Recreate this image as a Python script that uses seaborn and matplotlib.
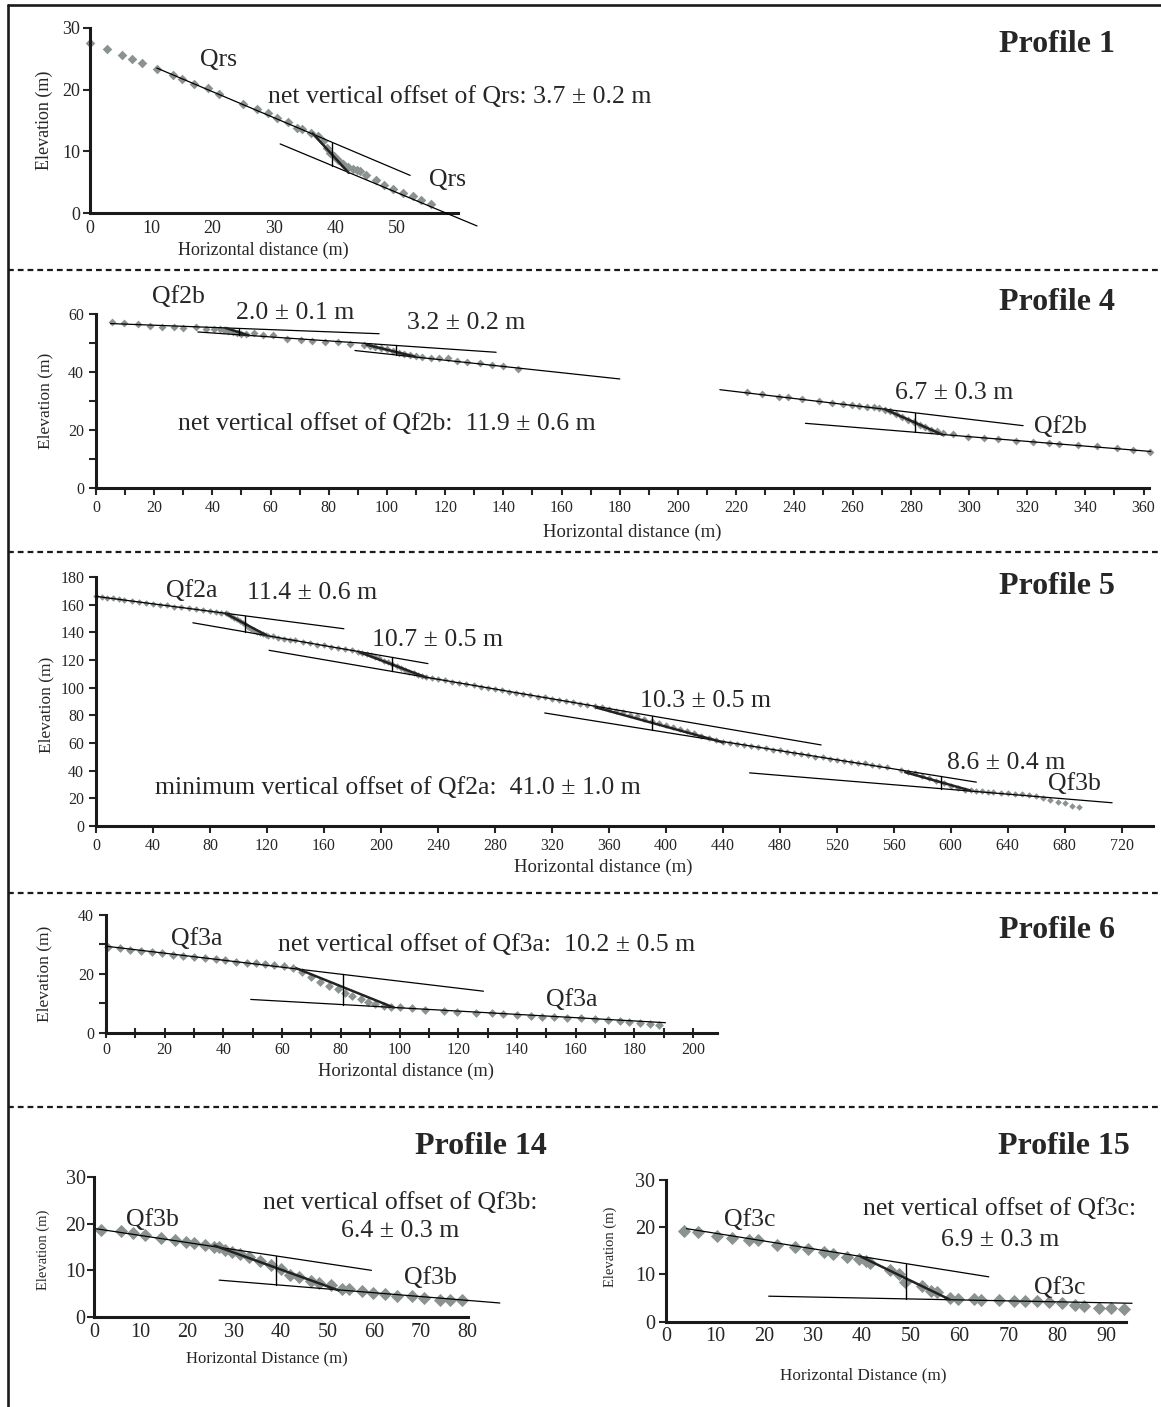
import numpy as np
import matplotlib
matplotlib.use('Agg')
import matplotlib.pyplot as plt
from matplotlib.lines import Line2D
import seaborn as sns

sns.set_style('ticks')
plt.rcParams['font.family'] = ['Liberation Serif', 'DejaVu Serif']

# ---------------------------------------------------------------------------
# Profile 1
p1_x = [0, 2.8, 5.2, 6.8, 8.5, 11, 13.6, 15, 17, 19.2, 21, 25, 27.2, 29, 30.5, 32.3, 33.7, 34.6,
        36, 37.2, 38, 38.6, 39.2, 39.8, 40.5, 41.2, 42, 42.8, 43.5, 44, 45, 46.6, 48, 49.4, 51,
        52.6, 54, 55.6]
p1_y = [27.5, 26.6, 25.6, 25.0, 24.3, 23.4, 22.3, 21.8, 21.0, 20.2, 19.3, 17.7, 16.9, 16.2, 15.4,
        14.7, 13.8, 13.6, 13.0, 12.5, 11.6, 10.6, 9.8, 9.2, 8.6, 8.0, 7.5, 7.2, 7.0, 6.8, 6.2, 5.3,
        4.6, 3.9, 3.2, 2.7, 2.1, 1.5]
p1_fits = [([10.9, 52.2], [23.5, 6.1]), ([31, 63.1], [11.2, -2.1])]
p1_scarps = [([36.3, 42.2], [12.9, 6.5])]
p1_bars = [(39.5, 11.4, 7.7)]

# Profile 4
p4_x = [5.6, 9.7, 14.3, 18.6, 22.6, 26.8, 29.9, 34.5, 37.8, 40.5, 42.5,
        44, 45.5, 47, 48.5, 50, 51.5,
        54.4, 57.5, 60.7, 65.7, 70.3, 74.1, 78.8, 83, 87.4,
        92, 94, 96, 98, 100, 102, 104, 106, 108, 110,
        112, 115, 118, 121, 124, 127.5, 132, 136, 140, 145,
        223.7, 228.8, 234.6, 237.8, 242.6, 248.4, 253, 256.7, 259.7, 262.3, 264.8, 267.2, 269, 271.2,
        273, 275, 277, 279, 281, 283, 285, 287, 289, 291,
        294.4, 299.5, 305.3, 309.8, 316.2, 322, 327.6, 331, 337.5, 343.9, 351, 356.4, 362.3]
p4_y = [57.2, 56.9, 56.5, 55.7, 55.6, 55.4, 55.3, 55.4, 55.0, 55.0, 54.8,
        54.6, 54.3, 53.9, 53.5, 53.2, 53.0,
        53.4, 52.8, 52.6, 51.4, 50.9, 50.8, 50.3, 50.3, 49.6,
        49.4, 49.0, 48.6, 48.2, 47.8, 47.2, 46.6, 46.2, 45.7, 45.4,
        45.3, 45.0, 44.7, 44.7, 43.9, 43.6, 43.0, 42.5, 41.9, 41.2,
        33.0, 32.4, 31.5, 31.3, 30.7, 29.9, 29.3, 29.0, 28.6, 28.2, 28.0, 27.8, 27.5, 26.9,
        26.4, 25.5, 24.6, 23.6, 22.7, 21.8, 20.9, 20.1, 19.5, 19.1,
        18.6, 17.7, 17.2, 16.8, 16.1, 15.7, 15.5, 15.2, 14.8, 14.4, 13.7, 13.1, 12.5]
p4_fits = [([5, 97.3], [56.7, 53.2]), ([35, 137.5], [53.8, 46.8]), ([89, 180], [47.4, 37.6]),
           ([214.4, 318.6], [33.9, 21.5]), ([243.8, 362.5], [22.3, 12.6])]
p4_scarps = [([44.5, 52.5], [55.2, 52.6]), ([93, 109.6], [49.4, 45.3]), ([271, 290.8], [27.2, 18.4])]
p4_bars = [(49, 55.0, 52.8), (103, 49.2, 45.9), (281.5, 25.9, 19.2)]

# Profile 5
p5_x = [0, 4, 8, 12, 16, 20, 25, 30, 35, 40, 45, 50, 55, 60, 65, 70, 75, 80, 84, 88, 91,
        93, 95, 97, 99, 101, 103, 105, 107, 109, 111, 113, 115, 117, 119, 121,
        124, 128, 132, 136, 140, 145, 150, 155, 160, 165, 170, 175, 180, 184,
        187, 190, 193, 196, 199, 202, 205, 208, 211, 214, 217, 220, 223, 226, 229, 232,
        236, 240, 245, 250, 255, 260, 265, 270, 275, 280, 285, 290, 295, 300, 305, 310, 315, 320,
        325, 330, 335, 340, 345, 350, 355,
        360, 365, 370, 375, 380, 385, 390, 395, 400, 405, 410, 415, 420, 425, 430, 435, 440,
        445, 450, 455, 460, 465, 470, 475, 480, 485, 490, 495, 500, 505, 510, 515, 520, 525, 530,
        535, 540, 545, 550, 555,
        565, 570, 575, 580, 585, 590, 595, 600, 605, 610, 614,
        618, 622, 626, 630, 635, 640, 645, 650, 655, 660, 665, 670, 675, 680, 685, 690]
p5_y = [166.1, 165.7, 165.0, 164.6, 163.9, 163.5, 162.6, 162.1, 161.3, 160.8, 159.9, 159.5, 158.6,
        158.1, 157.3, 156.8, 155.9, 155.4, 154.7, 154.3, 153.7,
        153.0, 152.1, 150.7, 149.5, 147.9, 146.7, 145.1, 143.9, 142.4, 141.4, 140.2, 139.6, 138.7,
        138.4, 137.7,
        137.0, 136.1, 135.5, 134.7, 134.1, 133.0, 132.3, 131.2, 130.5, 129.4, 128.8, 127.6, 126.9, 126.0,
        125.1, 124.1, 123.4, 122.1, 121.1, 119.6, 118.5, 116.9, 115.7, 114.1, 113.0, 111.5, 110.5,
        109.2, 108.4, 107.4,
        106.9, 106.0, 105.3, 104.2, 103.5, 102.5, 101.8, 100.7, 100.0, 98.9, 98.2, 97.2, 96.5, 95.4,
        94.7, 93.6, 92.9, 91.8, 91.2, 90.1, 89.4, 88.3, 87.6, 86.6, 85.9,
        84.6, 83.3, 82.1, 80.5, 79.2, 77.5, 76.2, 74.5, 73.1, 71.4, 70.1, 68.4, 67.0, 65.1, 63.6, 61.9, 60.7,
        60.2, 59.5, 58.5, 57.9, 56.8, 56.2, 55.2, 54.6, 53.5, 52.9, 51.9, 51.3, 50.2, 49.6, 48.6, 48.0,
        47.1, 46.5, 45.8, 45.2, 44.4, 43.6, 42.6,
        40.3, 39.2, 38.0, 36.1, 34.4, 32.4, 30.8, 28.9, 27.7, 26.3, 25.7,
        25.2, 25.0, 24.5, 24.3, 23.8, 23.6, 23.2, 22.9, 22.2, 21.6, 20.2, 19.0, 17.4, 16.3, 14.8, 13.9]
p5_fits = [([0, 174], [166, 142.6]), ([68, 233], [146.9, 117.4]), ([121.5, 509], [127, 58.6]),
           ([315, 618], [81.7, 31.7]), ([458.8, 713.3], [38.4, 16.8])]
p5_scarps = [([91, 119.4], [153.6, 138]), ([185, 232], [125.7, 107.3]),
             ([351, 440], [85.7, 60.5]), ([568, 613.6], [38.9, 25.7])]
p5_bars = [(104.6, 151.9, 140.4), (208, 121.9, 111.7), (390, 79.6, 69.3), (593.4, 35.8, 27.0)]

# Profile 6
p6_x = [0.8, 4.7, 8.3, 11.8, 15.6, 19.2, 22.8, 26.2, 30.1, 33.7, 37.4, 40.5, 44.4, 48, 51.1, 54.2,
        57.4, 60.5, 63.6, 66.7, 69.8, 73, 76, 79.2, 81.5, 83.9, 87, 89.3, 91.7, 94.8, 97.1, 100.2,
        104.1, 108.8, 115, 119.7, 126, 131.4, 135.3, 140, 144.7, 148.6, 152.5, 157.1, 161.8, 166.5,
        171.2, 175.1, 178.2, 182.1, 185.2, 188.3]
p6_y = [29.2, 28.7, 28.1, 27.8, 27.3, 27.0, 26.4, 26.1, 25.6, 25.3, 25.0, 24.7, 24.1, 23.8, 23.6,
        23.3, 23.0, 22.7, 22.1, 20.7, 18.8, 17.3, 15.9, 14.7, 13.6, 12.5, 11.3, 10.5, 9.6, 9.1, 8.8,
        8.6, 8.3, 7.7, 7.5, 7.1, 6.8, 6.6, 6.2, 6.0, 5.7, 5.4, 5.2, 5.1, 4.9, 4.5, 4.3, 4.0, 3.7,
        3.2, 2.9, 2.6]
p6_fits = [([0, 128.6], [29.4, 14.1]), ([49.3, 190.6], [11.3, 3.4])]
p6_scarps = [([64.8, 97.9], [21.9, 8.6])]
p6_bars = [(80.7, 19.8, 9.5)]

# Profile 14
p14_x = [1.5, 5.8, 8.3, 11, 14.4, 17.3, 19.6, 21.5, 23.8, 25.8, 26.8, 28.1, 29.6, 31.3, 33.1, 35.5,
         37.8, 40.1, 41.9, 43.8, 46.5, 48.2, 50.8, 53.1, 54.7, 57.4, 59.8, 62.3, 64.9, 68.1, 70.6,
         74.1, 76.2, 78.7]
p14_y = [18.7, 18.5, 17.9, 17.6, 16.9, 16.4, 16.1, 15.9, 15.4, 15.0, 15.0, 14.4, 13.9, 13.4, 12.8,
         11.9, 11.1, 10.3, 9.1, 8.6, 7.8, 7.3, 6.8, 6.1, 5.9, 5.5, 5.1, 5.0, 4.6, 4.4, 4.1, 3.7, 3.7, 3.6]
p14_fits = [([0.5, 59.4], [18.9, 10.0]), ([26.8, 86.9], [7.9, 3.0])]
p14_scarps = [([25.8, 52.4], [15.3, 5.7])]
p14_bars = [(39, 13.1, 6.9)]

# Profile 15
p15_x = [3.6, 6.6, 10.5, 13.5, 17, 18.9, 22.7, 26.4, 29.1, 32.4, 34.1, 37.1, 39.4, 40.9, 41.7, 45.8,
         47.7, 48.9, 52.3, 54.2, 55.5, 58, 59.7, 63, 64.4, 68, 71.1, 73.5, 75.9, 78.4, 80.9, 83.7,
         85.5, 88.5, 90.9, 93.6]
p15_y = [19.2, 18.9, 18.2, 17.8, 17.4, 17.3, 16.3, 15.8, 15.4, 14.8, 14.3, 13.7, 13.2, 12.8, 12.5,
         10.9, 10.0, 8.3, 7.6, 6.5, 6.3, 5.1, 4.9, 4.9, 4.7, 4.6, 4.4, 4.4, 4.4, 4.1, 3.9, 3.5, 3.4,
         3.0, 2.8, 2.6]
p15_fits = [([4.2, 66], [19.7, 9.5]), ([21, 95.3], [5.4, 3.9])]
p15_scarps = [([39.8, 58], [13.8, 4.7])]
p15_bars = [(49.1, 12.3, 4.8)]

# ---------------------------------------------------------------------------
W, H = 1161, 1407
PT = '#8b9390'
fig = plt.figure(figsize=(W / 100, H / 100), dpi=100)
fig.patch.set_facecolor('white')


def px(x, y):
    return x / W, 1 - y / H


def ftext(x, y, s, **kw):
    fx, fy = px(x, y)
    fig.text(fx, fy, s, **kw)


def panel(l, t, r, b, xlim, ylim):
    ax = fig.add_axes([l / W, 1 - b / H, (r - l) / W, (b - t) / H])
    ax.patch.set_alpha(0)
    ax.set_xlim(*xlim)
    ax.set_ylim(*ylim)
    for s in ['top', 'right']:
        ax.spines[s].set_visible(False)
    for s in ['left', 'bottom']:
        ax.spines[s].set_linewidth(2.2)
        ax.spines[s].set_color('#1a1a1a')
    return ax


def draw(ax, xs, ys, fits, scarps, bars, ms):
    sns.scatterplot(x=xs, y=ys, ax=ax, marker='D', s=ms, color=PT, edgecolor=PT,
                    linewidth=0, zorder=2, clip_on=False, legend=False)
    for xx, yy in fits:
        ax.plot(xx, yy, color='black', lw=0.9, zorder=3, clip_on=False)
    for xx, yy in scarps:
        ax.plot(xx, yy, color='#222222', lw=1.8, zorder=3, clip_on=False)
    for bx, y0, y1 in bars:
        ax.plot([bx, bx], [y0, y1], color='black', lw=1.0, zorder=3, clip_on=False)


TXT = 18.5
TITLE = 23

# ---- Profile 1
ax1 = panel(90, 28, 458, 213, (0, 60), (0, 30))
draw(ax1, p1_x, p1_y, p1_fits, p1_scarps, p1_bars, 24)
ax1.set_xticks(range(0, 51, 10))
ax1.set_yticks(range(0, 31, 10))
ax1.tick_params(axis='both', labelsize=13, width=1.5)
ax1.tick_params(axis='x', length=0, pad=5)
ax1.tick_params(axis='y', length=5, pad=2)
ftext(44, 120, 'Elevation (m)', rotation=90, ha='center', va='center', fontsize=13)
ftext(263, 250, 'Horizontal distance (m)', ha='center', va='center', fontsize=13)
ftext(218, 60, 'Qrs', ha='center', va='center', fontsize=TXT)
ftext(268, 97, 'net vertical offset of Qrs: 3.7 ± 0.2 m', ha='left', va='center', fontsize=TXT)
ftext(447, 180, 'Qrs', ha='center', va='center', fontsize=TXT)
ftext(1115, 45, 'Profile 1', ha='right', va='center', fontsize=TITLE, weight='bold')

# ---- Profile 4
ax4 = panel(96, 314, 1149.4, 488, (0, 362), (0, 60))
draw(ax4, p4_x, p4_y, p4_fits, p4_scarps, p4_bars, 16)
ax4.set_xticks(range(0, 361, 20))
ax4.set_xticks(range(10, 361, 20), minor=True)
ax4.set_yticks(range(0, 61, 20))
ax4.set_yticks(range(10, 61, 20), minor=True)
ax4.tick_params(axis='both', which='both', labelsize=11.5, width=1.5, length=5, direction='out')
ftext(45, 401, 'Elevation (m)', rotation=90, ha='center', va='center', fontsize=12.5)
ftext(632, 532, 'Horizontal distance (m)', ha='center', va='center', fontsize=13.5)
ftext(178, 297, 'Qf2b', ha='center', va='center', fontsize=TXT)
ftext(295, 313, '2.0 ± 0.1 m', ha='center', va='center', fontsize=TXT)
ftext(466, 323, '3.2 ± 0.2 m', ha='center', va='center', fontsize=TXT)
ftext(178, 424, 'net vertical offset of Qf2b:  11.9 ± 0.6 m', ha='left', va='center', fontsize=TXT)
ftext(954, 393, '6.7 ± 0.3 m', ha='center', va='center', fontsize=TXT)
ftext(1060, 427, 'Qf2b', ha='center', va='center', fontsize=TXT)
ftext(1115, 303, 'Profile 4', ha='right', va='center', fontsize=TITLE, weight='bold')

# ---- Profile 5
ax5 = panel(96, 577, 1153, 826, (0, 742), (0, 180))
draw(ax5, p5_x, p5_y, p5_fits, p5_scarps, p5_bars, 11)
ax5.set_xticks(range(0, 721, 40))
ax5.set_yticks(range(0, 181, 20))
ax5.tick_params(axis='both', labelsize=11.5, width=1.5, length=5, direction='out')
ftext(46, 705, 'Elevation (m)', rotation=90, ha='center', va='center', fontsize=12.5)
ftext(603, 867, 'Horizontal distance (m)', ha='center', va='center', fontsize=13.5)
ftext(192, 591, 'Qf2a', ha='center', va='center', fontsize=TXT)
ftext(312, 593, '11.4 ± 0.6 m', ha='center', va='center', fontsize=TXT)
ftext(437, 640, '10.7 ± 0.5 m', ha='center', va='center', fontsize=TXT)
ftext(705, 701, '10.3 ± 0.5 m', ha='center', va='center', fontsize=TXT)
ftext(1006, 763, '8.6 ± 0.4 m', ha='center', va='center', fontsize=TXT)
ftext(1074, 784, 'Qf3b', ha='center', va='center', fontsize=TXT)
ftext(155, 788, 'minimum vertical offset of Qf2a:  41.0 ± 1.0 m', ha='left', va='center', fontsize=TXT)
ftext(1115, 587, 'Profile 5', ha='right', va='center', fontsize=TITLE, weight='bold')

# ---- Profile 6
ax6 = panel(106, 915, 716.5, 1032.7, (0, 208), (0, 40))
draw(ax6, p6_x, p6_y, p6_fits, p6_scarps, p6_bars, 20)
ax6.set_xticks(range(0, 201, 20))
ax6.set_xticks(range(10, 201, 20), minor=True)
ax6.set_yticks(range(0, 41, 20))
ax6.set_yticks(range(10, 41, 20), minor=True)
ax6.tick_params(axis='both', which='both', labelsize=11.5, width=1.5, length=5)
ax6.tick_params(axis='x', which='both', direction='inout', length=7)
ftext(44, 974, 'Elevation (m)', rotation=90, ha='center', va='center', fontsize=12.5)
ftext(406, 1071, 'Horizontal distance (m)', ha='center', va='center', fontsize=13.3)
ftext(197, 939, 'Qf3a', ha='center', va='center', fontsize=TXT)
ftext(278, 945, 'net vertical offset of Qf3a:  10.2 ± 0.5 m', ha='left', va='center', fontsize=TXT)
ftext(572, 1000, 'Qf3a', ha='center', va='center', fontsize=TXT)
ftext(1115, 930, 'Profile 6', ha='right', va='center', fontsize=TITLE, weight='bold')

# ---- Profile 14
ax14 = panel(94, 1177, 467.6, 1317, (0, 80), (0, 30))
draw(ax14, p14_x, p14_y, p14_fits, p14_scarps, p14_bars, 45)
ax14.set_xticks(range(0, 81, 10))
ax14.set_yticks(range(0, 31, 10))
ax14.tick_params(axis='both', labelsize=14.5, width=1.5)
ax14.tick_params(axis='x', length=0, pad=4)
ax14.tick_params(axis='y', length=5, pad=1)
ftext(43, 1250, 'Elevation (m)', rotation=90, ha='center', va='center', fontsize=10.5)
ftext(267, 1358, 'Horizontal Distance (m)', ha='center', va='center', fontsize=12)
ftext(152, 1220, 'Qf3b', ha='center', va='center', fontsize=TXT)
ftext(400, 1203, 'net vertical offset of Qf3b:', ha='center', va='center', fontsize=TXT)
ftext(400, 1231, '6.4 ± 0.3 m', ha='center', va='center', fontsize=TXT)
ftext(430, 1278, 'Qf3b', ha='center', va='center', fontsize=TXT)
ftext(481, 1147, 'Profile 14', ha='center', va='center', fontsize=TITLE, weight='bold')

# ---- Profile 15
ax15 = panel(666, 1180, 1125.7, 1321.7, (0, 94), (0, 30))
draw(ax15, p15_x, p15_y, p15_fits, p15_scarps, p15_bars, 45)
ax15.set_xticks(range(0, 91, 10))
ax15.set_yticks(range(0, 31, 10))
ax15.tick_params(axis='both', labelsize=14.5, width=1.5)
ax15.tick_params(axis='x', length=0, pad=4)
ax15.tick_params(axis='y', length=5, pad=3)
ftext(610, 1247, 'Elevation (m)', rotation=90, ha='center', va='center', fontsize=10.5)
ftext(863, 1375, 'Horizontal Distance (m)', ha='center', va='center', fontsize=12.3)
ftext(750, 1220, 'Qf3c', ha='center', va='center', fontsize=TXT)
ftext(1000, 1209, 'net vertical offset of Qf3c:', ha='center', va='center', fontsize=TXT)
ftext(1000, 1240, '6.9 ± 0.3 m', ha='center', va='center', fontsize=TXT)
ftext(1060, 1288, 'Qf3c', ha='center', va='center', fontsize=TXT)
ftext(1130, 1147, 'Profile 15', ha='right', va='center', fontsize=TITLE, weight='bold')

# ---- frame and separators
for (x0, y0), (x1, y1) in [((8, 5), (8, H + 5)), ((8, 5), (W + 5, 5))]:
    a, b = px(x0, y0)
    c, d = px(x1, y1)
    fig.add_artist(Line2D([a, c], [b, d], color='#1a1a1a', lw=1.9))
for yy in [270, 552, 893, 1107]:
    a, b = px(8, yy)
    c, d = px(W, yy)
    fig.add_artist(Line2D([a, c], [b, d], color='#1a1a1a', lw=1.6, linestyle=(0, (2.6, 1.8))))

fig.savefig('out.png', dpi=100)
